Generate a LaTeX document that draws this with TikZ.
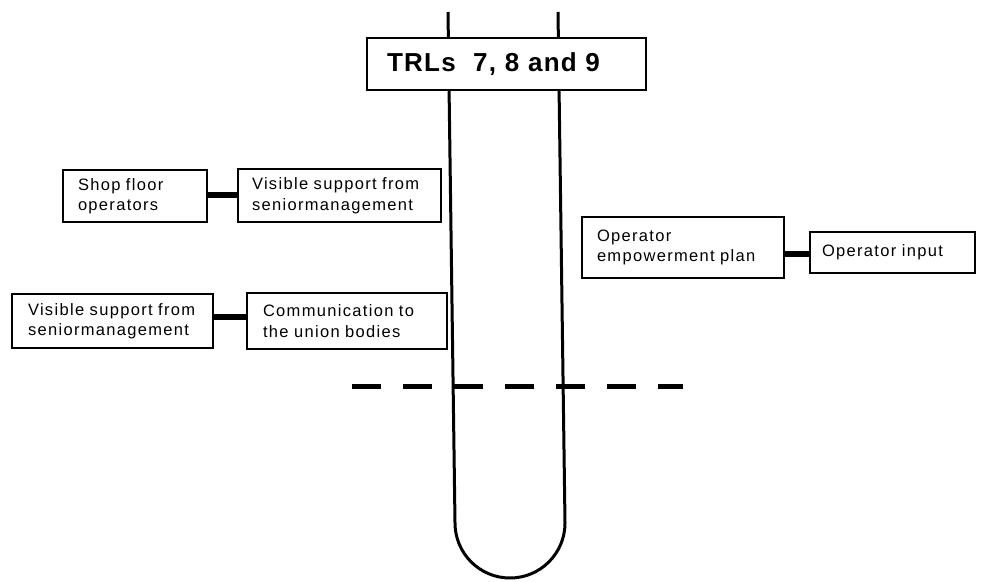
\documentclass[tikz,border=0pt]{standalone}
\usepackage{fontspec}
\setmainfont{Liberation Sans}
\newfontfamily\smallf[LetterSpace=8]{Liberation Sans}
\newfontfamily\titlef[LetterSpace=5]{Liberation Sans}
\begin{document}
\begin{tikzpicture}[x=1pt,y=-1pt,
  box/.style={draw, line width=1.4pt, fill=white, inner ysep=0pt, align=left,
    font=\smallf\fontsize{16.5}{20.5}\selectfont},
  link/.style={line width=6pt},
  tube/.style={line width=3pt}]
\useasboundingbox (0,0) rectangle (990,581);
% tube
\coordinate (tl) at (448,12);
\coordinate (tr) at (558,12);
\coordinate (bl) at (455,523);
\draw[tube] (tl) -- (bl) arc[start angle=180, end angle=360, radius=55pt] -- (tr);
% dashed line
\coordinate (dl) at (352,386);
\coordinate (dr) at (683,386);
\draw[line width=5pt, dash pattern=on 29pt off 22pt] (dl) -- (dr);
% title
\node[draw, line width=1.4pt, fill=white, inner xsep=20pt, inner ysep=0pt,
  text width=239pt, minimum height=52pt, align=left,
  font=\titlef\bfseries\fontsize{26}{30}\selectfont] (trl) at (506.5,64) {\raisebox{3pt}{TRLs\ \ 7, 8 and 9}};
% boxes
\node[box, inner xsep=15pt, text width=114pt, minimum height=52pt] (shop) at (135,196) {Shop floor\\operators};
\node[box, inner xsep=14pt, text width=175pt, minimum height=53pt] (vis1) at (339.5,195.5) {Visible support from\\seniormanagement};
\node[box, inner xsep=16pt, text width=169pt, minimum height=54pt] (vis2) at (112.5,321) {Visible support from\\seniormanagement};
\node[box, inner xsep=16pt, text width=168pt, minimum height=56pt] (comm) at (347,321) {Communication to\\the union bodies};
\node[box, inner xsep=15pt, text width=172pt, minimum height=61pt] (emp) at (683,247.5) {Operator\\empowerment plan};
\node[box, inner xsep=12pt, text width=141pt, minimum height=41pt] (inp) at (892.5,252.5) {Operator input};
% links
\draw[link] ([yshift=1pt]shop.east) -- ([yshift=1pt]shop.east -| vis1.west);
\draw[link] ([yshift=4.5pt]vis2.east) -- ([yshift=4.5pt]vis2.east -| comm.west);
\draw[link] ([yshift=-6pt]emp.east) -- ([yshift=-6pt]emp.east -| inp.west);
\end{tikzpicture}
\end{document}
